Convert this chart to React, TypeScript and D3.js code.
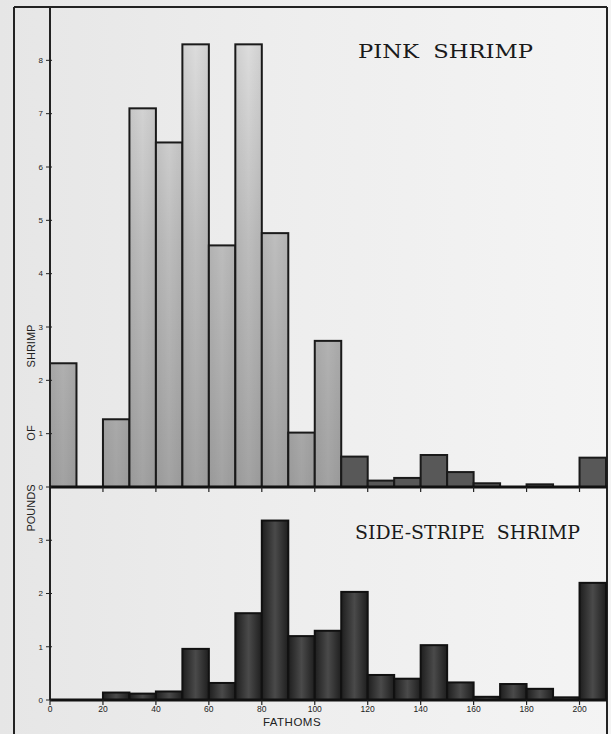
import React from "react";
import * as d3 from "d3";

const binStarts = [0, 10, 20, 30, 40, 50, 60, 70, 80, 90, 100, 110, 120, 130, 140, 150, 160, 170, 180, 190, 200];
const pinkPounds = [2.32, 0, 1.27, 7.1, 6.46, 8.3, 4.53, 8.3, 4.76, 1.02, 2.74, 0.57, 0.12, 0.17, 0.6, 0.28, 0.07, 0, 0.05, 0, 0.55];
const sidePounds = [0, 0, 0.14, 0.12, 0.16, 0.96, 0.32, 1.63, 3.37, 1.2, 1.3, 2.03, 0.47, 0.4, 1.03, 0.33, 0.06, 0.3, 0.21, 0.05, 2.2];
const xTicks = [0, 20, 40, 60, 80, 100, 120, 140, 160, 180, 200];
const pinkTicks = [0, 1, 2, 3, 4, 5, 6, 7, 8];
const sideTicks = [0, 1, 2, 3];
const binWidth = 10;

const W = 611;
const H = 734;

export default function App() {
  const x = d3.scaleLinear().domain([0, 210]).range([50, 606]);
  const yTop = d3.scaleLinear().domain([0, 9]).range([487, 7]);
  const yBot = d3.scaleLinear().domain([0, 4]).range([700, 487]);
  const sans = "Liberation Sans, Arial, sans-serif";
  const serif = "DejaVu Serif, Liberation Serif, serif";

  return (
    <svg width={W} height={H} style={{ position: "absolute", left: 0, top: 0, display: "block" }}>
      <defs>
        <linearGradient id="bg" x1="0" y1="0" x2="1" y2="0">
          <stop offset="0" stopColor="#e6e6e6" />
          <stop offset="0.5" stopColor="#eeeeee" />
          <stop offset="1" stopColor="#f4f4f4" />
        </linearGradient>
        <linearGradient id="pinkFill" gradientUnits="userSpaceOnUse" x1="0" y1="40" x2="0" y2="487">
          <stop offset="0" stopColor="#dddddd" />
          <stop offset="0.45" stopColor="#bdbdbd" />
          <stop offset="1" stopColor="#a2a2a2" />
        </linearGradient>
        <linearGradient id="pinkH" x1="0" y1="0" x2="1" y2="0">
          <stop offset="0" stopColor="#000" stopOpacity="0.06" />
          <stop offset="0.5" stopColor="#000" stopOpacity="0" />
          <stop offset="1" stopColor="#000" stopOpacity="0.06" />
        </linearGradient>
        <linearGradient id="sideFill" x1="0" y1="0" x2="1" y2="0">
          <stop offset="0" stopColor="#1e1e1e" />
          <stop offset="0.5" stopColor="#4a4a4a" />
          <stop offset="1" stopColor="#1e1e1e" />
        </linearGradient>
      </defs>
      <rect x={0} y={0} width={W} height={H} fill="url(#bg)" />

      {/* outer frame */}
      <line x1={14} y1={7} x2={14} y2={H} stroke="#222" strokeWidth={2} />
      <line x1={14} y1={7} x2={607} y2={7} stroke="#222" strokeWidth={2} />
      <line x1={607} y1={7} x2={607} y2={H} stroke="#222" strokeWidth={2} />

      {/* pink shrimp bars */}
      {binStarts.map((b, i) => {
        const v = pinkPounds[i];
        if (v <= 0) return null;
        const x0 = x(b);
        const x1 = x(b + binWidth);
        const yv = yTop(v);
        const h = yTop(0) - yv;
        return (
          <g key={"p" + i}>
            <rect x={x0} y={yv} width={x1 - x0} height={h} fill={v < 0.8 ? "#585858" : "url(#pinkFill)"} stroke="#1a1a1a" strokeWidth={2} />
            {v >= 0.8 && <rect x={x0} y={yv} width={x1 - x0} height={h} fill="url(#pinkH)" />}
          </g>
        );
      })}

      {/* side-stripe bars */}
      {binStarts.map((b, i) => {
        const v = sidePounds[i];
        if (v <= 0) return null;
        const x0 = x(b);
        const x1 = x(b + binWidth);
        const yv = yBot(v);
        return (
          <rect key={"s" + i} x={x0} y={yv} width={x1 - x0} height={yBot(0) - yv} fill="url(#sideFill)" stroke="#111" strokeWidth={2} />
        );
      })}

      {/* axes */}
      <line x1={50} y1={7} x2={50} y2={700} stroke="#222" strokeWidth={2} />
      <line x1={50} y1={yTop(0)} x2={607} y2={yTop(0)} stroke="#111" strokeWidth={3} />
      <line x1={50} y1={yBot(0)} x2={607} y2={yBot(0)} stroke="#111" strokeWidth={3} />

      {/* pink y ticks */}
      {pinkTicks.map((t) => (
        <g key={"pt" + t}>
          <line x1={46} x2={52} y1={yTop(t)} y2={yTop(t)} stroke="#222" strokeWidth={1} />
          <text x={43} y={yTop(t)} dy="0.35em" textAnchor="end" fontSize={8} fontFamily={sans} fill="#222">{t}</text>
        </g>
      ))}
      {/* side y ticks */}
      {sideTicks.map((t) => (
        <g key={"st" + t}>
          <line x1={46} x2={52} y1={yBot(t)} y2={yBot(t)} stroke="#222" strokeWidth={1} />
          <text x={43} y={yBot(t)} dy="0.35em" textAnchor="end" fontSize={8} fontFamily={sans} fill="#222">{t}</text>
        </g>
      ))}

      {/* x ticks on pink baseline */}
      {xTicks.filter((t) => t > 0).map((t) => (
        <line key={"px" + t} x1={x(t)} x2={x(t)} y1={yTop(0)} y2={yTop(0) + 5} stroke="#222" strokeWidth={1.2} />
      ))}
      {/* x ticks and labels on bottom */}
      {xTicks.map((t) => (
        <g key={"bx" + t}>
          <line x1={x(t)} x2={x(t)} y1={yBot(0)} y2={yBot(0) + 5} stroke="#222" strokeWidth={1.2} />
          <text x={x(t)} y={yBot(0) + 12} textAnchor="middle" fontSize={8.5} fontFamily={sans} fill="#222">{t}</text>
        </g>
      ))}

      {/* axis labels */}
      <text x={292} y={726} textAnchor="middle" fontSize={11.5} fontFamily={sans} fill="#222" letterSpacing={0.5}>FATHOMS</text>
      <text transform="translate(35,346) rotate(-90)" textAnchor="middle" fontSize={11} fontFamily={sans} fill="#222">SHRIMP</text>
      <text transform="translate(35,433) rotate(-90)" textAnchor="middle" fontSize={11} fontFamily={sans} fill="#222">OF</text>
      <text transform="translate(35,508) rotate(-90)" textAnchor="middle" fontSize={11} fontFamily={sans} fill="#222">POUNDS</text>

      {/* titles */}
      <text x={358} y={58} fontSize={19} fontFamily={serif} fill="#1a1a1a" textLength={175} lengthAdjust="spacingAndGlyphs">{"PINK\u00a0\u00a0SHRIMP"}</text>
      <text x={355} y={539} fontSize={19} fontFamily={serif} fill="#1a1a1a" textLength={225} lengthAdjust="spacingAndGlyphs">{"SIDE-STRIPE\u00a0\u00a0SHRIMP"}</text>
    </svg>
  );
}
